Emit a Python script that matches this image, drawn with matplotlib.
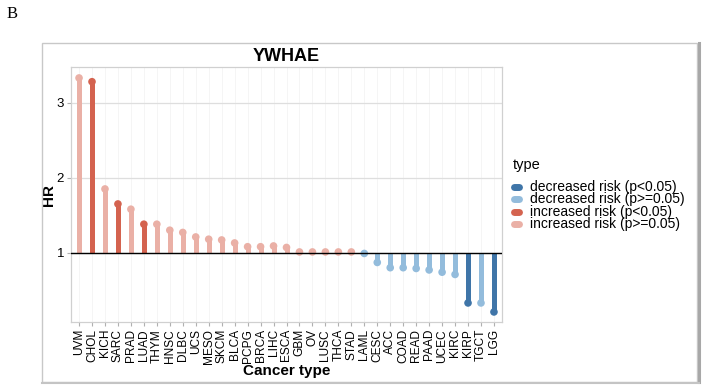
import matplotlib
matplotlib.use("Agg")
import matplotlib.pyplot as plt
from matplotlib.lines import Line2D
from matplotlib.patches import Rectangle
import numpy as np

plt.rcParams['font.family'] = ['Liberation Sans', 'DejaVu Sans']

categories = ["UVM", "CHOL", "KICH", "SARC", "PRAD", "LUAD", "THYM", "HNSC", "DLBC", "UCS",
              "MESO", "SKCM", "BLCA", "PCPG", "BRCA", "LIHC", "ESCA", "GBM", "OV", "LUSC",
              "THCA", "STAD", "LAML", "CESC", "ACC", "COAD", "READ", "PAAD", "UCEC", "KIRC",
              "KIRP", "TGCT", "LGG"]
hr = [3.33, 3.28, 1.85, 1.65, 1.58, 1.38, 1.38, 1.30, 1.27, 1.21,
      1.18, 1.17, 1.13, 1.08, 1.08, 1.09, 1.07, 1.01, 1.01, 1.01,
      1.01, 1.01, 0.99, 0.87, 0.80, 0.80, 0.79, 0.77, 0.74, 0.71,
      0.33, 0.33, 0.21]
types = ["inc_ns", "inc_sig", "inc_ns", "inc_sig", "inc_ns", "inc_sig", "inc_ns", "inc_ns", "inc_ns", "inc_ns",
         "inc_ns", "inc_ns", "inc_ns", "inc_ns", "inc_ns", "inc_ns", "inc_ns", "inc_ns", "inc_ns", "inc_ns",
         "inc_ns", "inc_ns", "dec_ns", "dec_ns", "dec_ns", "dec_ns", "dec_ns", "dec_ns", "dec_ns", "dec_ns",
         "dec_sig", "dec_ns", "dec_sig"]
type_keys = ["dec_sig", "dec_ns", "inc_sig", "inc_ns"]
type_labels = ["decreased risk (p<0.05)", "decreased risk (p>=0.05)",
               "increased risk (p<0.05)", "increased risk (p>=0.05)"]
type_colors = {"dec_sig": "#3f75a8", "dec_ns": "#93bcdc", "inc_sig": "#d4634f", "inc_ns": "#eab0a6"}
y_ticks = [1, 2, 3]

W, H = 707, 386
fig = plt.figure(figsize=(W / 100, H / 100), dpi=100)

def fx(px):
    return px / W

def fy(py):
    return 1 - py / H

# outer frame
fig.add_artist(Rectangle((fx(42), fy(382)), (697 - 42) / W, (382 - 43) / H, transform=fig.transFigure,
                         fill=False, edgecolor="#c8c8c8", lw=1.0))
fig.add_artist(Line2D([fx(698.5), fx(698.5)], [fy(382), fy(43)], transform=fig.transFigure,
                      color="#a8a8a8", lw=2.2))
fig.add_artist(Line2D([fx(42), fx(699)], [fy(382.5), fy(382.5)], transform=fig.transFigure,
                      color="#c4c4c4", lw=1.5))
fig.text(fx(12), fy(14), "B", family="Liberation Serif", fontsize=12, ha="center", va="center")

ax = fig.add_axes([fx(71), fy(322), (502 - 71) / W, (322 - 67) / H])
x = np.arange(len(categories))
cols = [type_colors[t] for t in types]

ax.vlines(x, 1, hr, colors=cols, lw=3.6, zorder=3)
ax.scatter(x, hr, s=30, c=cols, zorder=4, linewidths=0)
ax.axhline(1, color="black", lw=1.0, zorder=5)

ax.set_xlim(-0.62, len(categories) - 1 + 0.62)
ax.set_ylim(0.076, 3.476)
ax.set_yticks(y_ticks)
ax.set_xticks(x)
ax.set_xticklabels(categories, rotation=90, fontsize=8.6)
ax.tick_params(axis="y", labelsize=9.5, length=3, color="#b0b0b0", pad=2)
ax.tick_params(axis="x", length=3, color="#b0b0b0", pad=2)
ax.grid(axis="y", color="#dedede", lw=0.9, zorder=0)
ax.grid(axis="x", color="#f4f4f4", lw=0.6, zorder=0)
ax.set_axisbelow(True)
for s in ax.spines.values():
    s.set_color("#d0d0d0")
    s.set_linewidth(0.9)

ax.set_xlabel("Cancer type", fontsize=11, fontweight="bold")
ax.xaxis.set_label_coords(0.5, -(364 - 322) / 255)
ax.set_ylabel("HR", fontsize=11, fontweight="bold")
ax.yaxis.set_label_coords(-15 / (502 - 71), 0.5)
ax.set_title("YWHAE", fontsize=13, fontweight="bold", pad=4)

# legend (drawn manually for exact spacing)
fig.text(fx(513), fy(165), "type", fontsize=10.5, ha="left", va="center")
leg_y = [187, 199.5, 212, 224.5]
for k, lab, yy in zip(type_keys, type_labels, leg_y):
    fig.add_artist(Line2D([fx(514), fx(519)], [fy(yy), fy(yy)], transform=fig.transFigure,
                          color=type_colors[k], lw=5, solid_capstyle="round"))
    fig.text(fx(530), fy(yy), lab, fontsize=10, ha="left", va="center")

fig.savefig("out.png", dpi=100)
